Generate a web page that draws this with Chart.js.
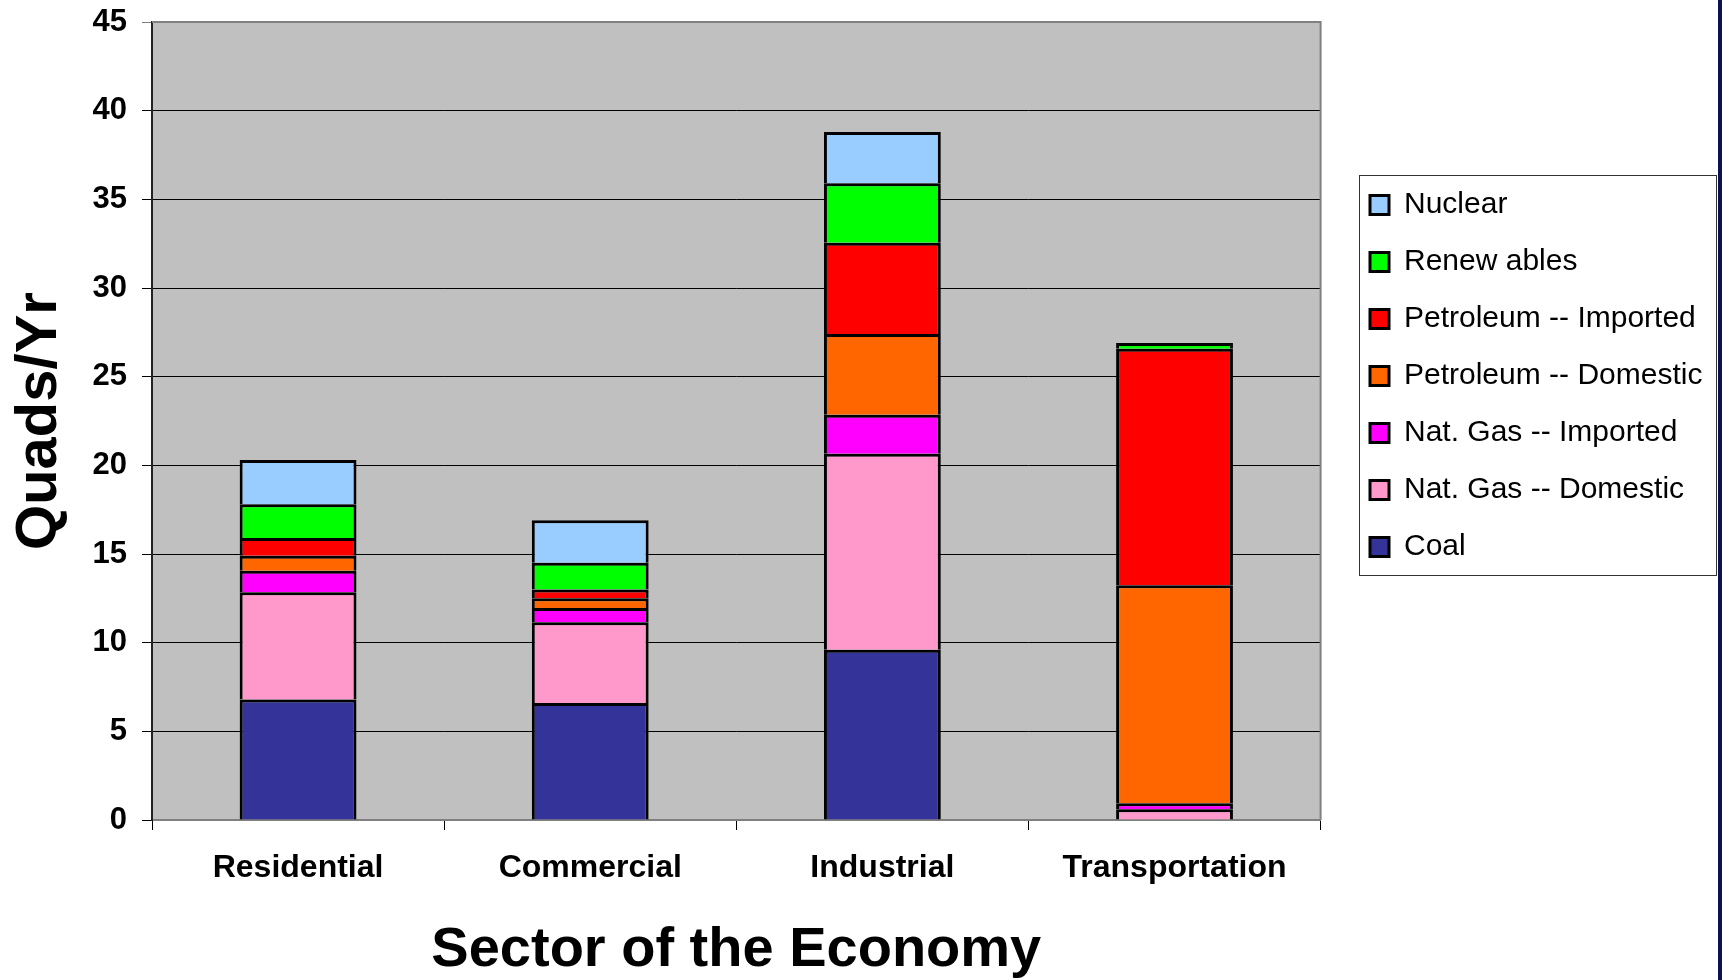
<!DOCTYPE html>
<html>
<head>
<meta charset="utf-8">
<script src="https://cdn.jsdelivr.net/npm/chart.js@4/dist/chart.umd.min.js"></script>
<style>
  html, body { margin: 0; padding: 0; background: #fff; }
  #wrap { position: relative; width: 1722px; height: 980px; }
  #edge { position: absolute; right: 0; top: 0; width: 4px; height: 980px; background: #0b1152; }
</style>
</head>
<body>
<div id="wrap">
  <canvas id="plot" width="1722" height="980"></canvas>
  <div id="edge"></div>
</div>
<script>
const ctx = document.querySelector("#plot").getContext("2d");

const SECTORS = ["Residential", "Commercial", "Industrial", "Transportation"];

// bottom of the stack first
const COAL = [6.8, 6.6, 9.6, null];
const GAS_DOMESTIC = [6.05, 4.55, 11.05, 0.6];
const GAS_IMPORTED = [1.2, 0.8, 2.2, 0.34];
const PETRO_DOMESTIC = [0.85, 0.55, 4.55, 12.3];
const PETRO_IMPORTED = [1.0, 0.5, 5.15, 13.33];
const RENEWABLES = [1.9, 1.5, 3.35, 0.33];
const NUCLEAR = [2.5, 2.4, 2.9, null];

const Y_TICKS = [0, 5, 10, 15, 20, 25, 30, 35, 40, 45];

const SERIES = [
  ["Coal", COAL, "#333399"],
  ["Nat. Gas -- Domestic", GAS_DOMESTIC, "#FF99CC"],
  ["Nat. Gas -- Imported", GAS_IMPORTED, "#FF00FF"],
  ["Petroleum -- Domestic", PETRO_DOMESTIC, "#FF6600"],
  ["Petroleum -- Imported", PETRO_IMPORTED, "#FF0000"],
  ["Renew ables", RENEWABLES, "#00FF00"],
  ["Nuclear", NUCLEAR, "#99CCFF"]
];

const FONT = "'Liberation Sans', Arial, sans-serif";

// grey plot background, grey frame and the legend box
const frame = {
  id: "frame",
  beforeDraw(chart) {
    const c = chart.ctx;
    const a = chart.chartArea;
    c.save();
    c.fillStyle = "#C0C0C0";
    c.fillRect(a.left, a.top, a.right - a.left, a.bottom - a.top);
    const lg = chart.legend;
    c.strokeStyle = "#333";
    c.lineWidth = 1;
    c.strokeRect(lg.left + 16.5, lg.top + 12.5, 357, 400);
    c.restore();
  },
  afterDatasetsDraw(chart) {
    const c = chart.ctx;
    const a = chart.chartArea;
    c.save();
    c.strokeStyle = "#808080";
    c.lineWidth = 2;
    c.beginPath();
    c.moveTo(a.left, a.top);
    c.lineTo(a.right, a.top);
    c.lineTo(a.right, a.bottom);
    c.stroke();
    c.restore();
  },
  afterLayout(chart) {
    const lg = chart.legend;
    lg.left = 1343;
    lg.right = lg.left + lg.width;
    lg.top = 163;
    lg.bottom = lg.top + lg.height;
  }
};

new Chart(ctx, {
  type: "bar",
  data: {
    labels: SECTORS,
    datasets: SERIES.map(([label, data, color]) => ({
      label,
      data,
      backgroundColor: color,
      borderColor: "#000",
      borderWidth: 3,
      barPercentage: 0.4,
      categoryPercentage: 1
    }))
  },
  options: {
    responsive: false,
    animation: false,
    layout: { padding: { top: 22, right: 32, left: 0, bottom: 0 } },
    plugins: {
      tooltip: { enabled: false },
      legend: {
        position: "right",
        align: "start",
        reverse: true,
        labels: {
          boxWidth: 19,
          boxHeight: 19,
          padding: 27,
          color: "#000",
          font: { family: FONT, size: 30 }
        }
      }
    },
    scales: {
      x: {
        stacked: true,
        afterFit: s => { s.height = 160; },
        grid: { display: true, drawOnChartArea: false, drawTicks: true, tickLength: 10, color: "#000", offset: true },
        border: { color: "#808080", width: 2 },
        ticks: { color: "#000", padding: 19, font: { family: FONT, size: 32, weight: "bold" } },
        title: {
          display: true,
          text: "Sector of the Economy",
          color: "#000",
          padding: { top: 7, bottom: 1 },
          font: { family: FONT, size: 56, weight: "bold", lineHeight: 1 }
        }
      },
      y: {
        stacked: true,
        min: 0,
        max: 45,
        afterFit: s => {
          s.width = 152;
          s.paddingTop = 0;
          s.paddingBottom = 0;
        },
        afterBuildTicks: s => { s.ticks = Y_TICKS.map(v => ({ value: v })); },
        grid: {
          color: c => (c.tick && c.tick.value === 45 ? "#808080" : "#000"),
          lineWidth: 1,
          tickLength: 10,
          drawTicks: true
        },
        border: { color: "#222", width: 2 },
        ticks: { color: "#000", padding: 15, font: { family: FONT, size: 31, weight: "bold" } },
        title: {
          display: true,
          text: "Quads/Yr",
          color: "#000",
          padding: { top: 5, bottom: 0 },
          font: { family: FONT, size: 58, weight: "bold" }
        }
      }
    }
  },
  plugins: [frame]
});
</script>
</body>
</html>
